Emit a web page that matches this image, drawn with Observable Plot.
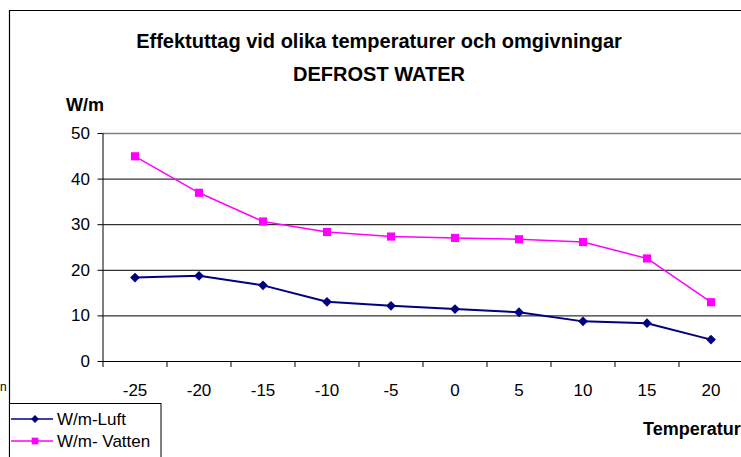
<!DOCTYPE html>
<html><head><meta charset="utf-8">
<script src="https://cdn.jsdelivr.net/npm/d3@7"></script>
<script src="https://cdn.jsdelivr.net/npm/@observablehq/plot@0.6"></script>
<style>
html,body{margin:0;padding:0;background:#fff;overflow:hidden}
#wrap{position:relative;width:741px;height:457px;overflow:hidden;background:#fff}
#wrap svg{position:absolute;left:0;top:0}
</style></head><body><div id="wrap"></div>
<script>
const temps = [-25, -20, -15, -10, -5, 0, 5, 10, 15, 20];
const luft = [18.4, 18.8, 16.7, 13.1, 12.2, 11.5, 10.8, 8.8, 8.4, 4.8];
const vatten = [45.0, 37.0, 30.7, 28.4, 27.4, 27.1, 26.8, 26.2, 22.6, 13.0];
const seriesNames = ["W/m-Luft", "W/m- Vatten"];
const seriesColors = ["#000080", "#FF00FF"];
const seriesSymbols = ["diamond2", "square"];
const seriesWidths = [2, 1.5];
const yTicks = [0, 10, 20, 30, 40, 50];
const titleLines = ["Effektuttag vid olika temperaturer och omgivningar", "DEFROST WATER"];
const yLabel = "W/m";
const xLabel = "Temperatur";

const FONT = "'Liberation Sans', Arial, sans-serif";
const seriesValues = [luft, vatten];
const data = [];
seriesNames.forEach((s, i) => temps.forEach((t, j) => data.push({t, v: seriesValues[i][j], s})));

const half = 2.5;
const xDomain = [d3.min(temps) - half, d3.max(temps) + half];
const bounds = d3.range(xDomain[0], xDomain[1] + 0.01, 5);

const chart = Plot.plot({
  width: 741, height: 457,
  marginTop: 133, marginBottom: 96, marginLeft: 102.5, marginRight: -1.5,
  style: {fontFamily: FONT, background: "transparent", color: "#000"},
  x: {type: "linear", domain: xDomain},
  y: {domain: [0, 50]},
  color: {domain: seriesNames, range: seriesColors},
  marks: [
    Plot.ruleY(yTicks.filter(d => d < 50), {stroke: "#000", strokeWidth: 1}),
    Plot.ruleY([50], {stroke: "#808080", strokeWidth: 1.5}),
    Plot.ruleX([xDomain[0]], {stroke: "#000", strokeWidth: 1}),
    Plot.axisY({ticks: yTicks, tickSize: 5, tickPadding: 8, fontSize: 17, label: null, tickFormat: d => String(d)}),
    Plot.axisX({ticks: bounds, tickSize: 6, tickFormat: () => "", label: null}),
    Plot.axisX({ticks: temps, tickSize: 0, tickPadding: 22, fontSize: 17, label: null, tickFormat: d => String(d)}),
    ...seriesNames.map((s, i) => Plot.line(data.filter(d => d.s === s), {x: "t", y: "v", stroke: "s", strokeWidth: seriesWidths[i]})),
    Plot.dot(data.filter(d => d.s === seriesNames[0]), {x: "t", y: "v", fill: "s", symbol: seriesSymbols[0], r: 4.4}),
    Plot.dot(data.filter(d => d.s === seriesNames[1]), {x: "t", y: "v", fill: "s", symbol: seriesSymbols[1], r: 4.6})
  ]
});

const wrap = document.getElementById("wrap");
wrap.appendChild(chart);

// overlay: frame, titles, axis titles, legend
const ov = d3.create("svg").attr("width", 741).attr("height", 457)
  .style("font-family", FONT);
ov.append("path").attr("d", "M9.5,457V10.5H741").attr("fill", "none").attr("stroke", "#000").attr("stroke-width", 1.2);
ov.append("text").attr("x", 379).attr("y", 48).attr("text-anchor", "middle")
  .attr("font-size", 20).attr("font-weight", "bold").text(titleLines[0]);
ov.append("text").attr("x", 379).attr("y", 81).attr("text-anchor", "middle")
  .attr("font-size", 20).attr("font-weight", "bold").text(titleLines[1]);
ov.append("text").attr("x", 66).attr("y", 111).attr("font-size", 18).attr("font-weight", "bold").text(yLabel);
ov.append("text").attr("x", 643).attr("y", 435).attr("font-size", 18).attr("font-weight", "bold").text(xLabel);
ov.append("text").attr("x", 0).attr("y", 391).attr("font-size", 12).text("n");

const lg = ov.append("g");
lg.append("rect").attr("x", 9.5).attr("y", 403.5).attr("width", 151.5).attr("height", 60)
  .attr("fill", "#fff").attr("stroke", "#000").attr("stroke-width", 1);
const symMap = {diamond2: d3.symbolDiamond2, square: d3.symbolSquare};
const symSize = [Math.PI * 4.2 * 4.2, Math.PI * 4.5 * 4.5];
seriesNames.forEach((s, i) => {
  const y = 419 + i * 22;
  lg.append("line").attr("x1", 11).attr("x2", 53).attr("y1", y).attr("y2", y)
    .attr("stroke", seriesColors[i]).attr("stroke-width", 1.5);
  lg.append("path").attr("d", d3.symbol(symMap[seriesSymbols[i]], symSize[i] * 0.7)())
    .attr("transform", `translate(35,${y})`).attr("fill", seriesColors[i]);
  lg.append("text").attr("x", 57).attr("y", y + 6).attr("font-size", 17).text(s);
});
wrap.appendChild(ov.node());
</script></body></html>
